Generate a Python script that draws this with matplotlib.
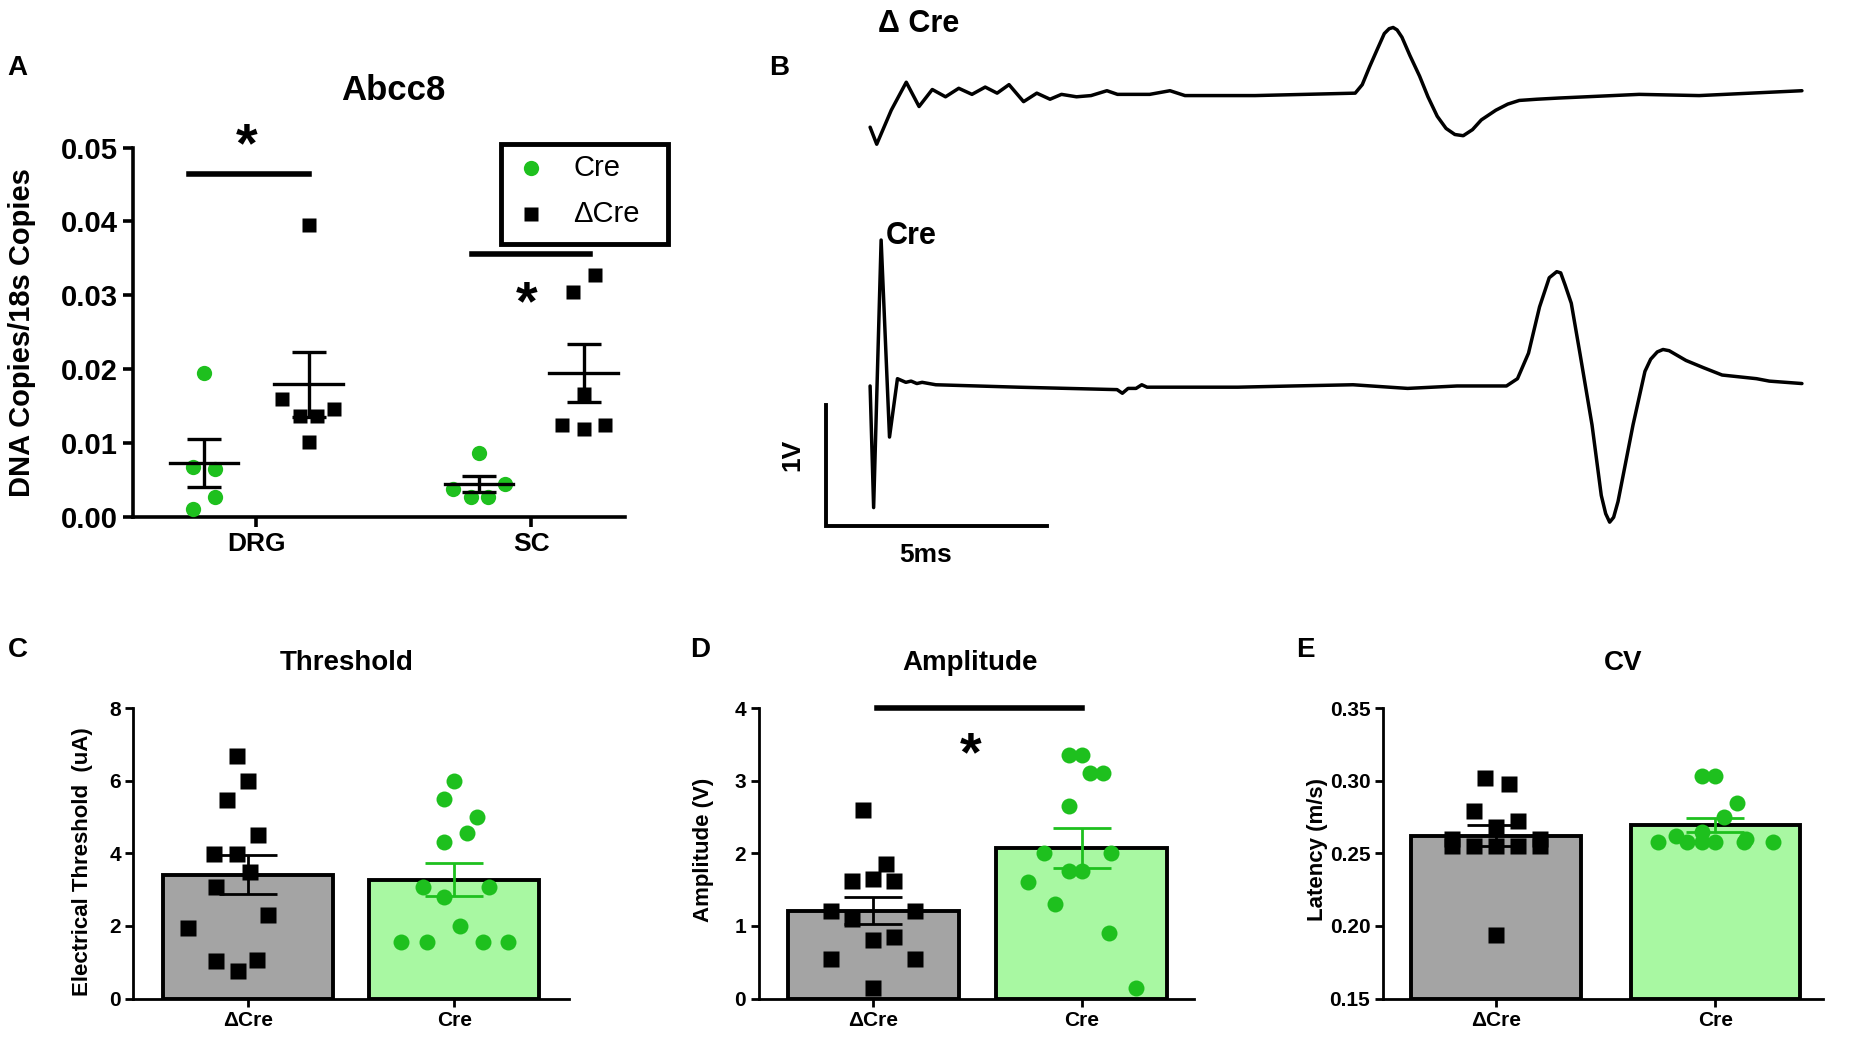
import matplotlib
matplotlib.use("Agg")
import matplotlib.pyplot as plt
import numpy as np
from matplotlib.patches import Rectangle
from matplotlib.lines import Line2D

plt.rcParams['font.family'] = ['Liberation Sans', 'DejaVu Sans']
plt.rcParams['font.weight'] = 'bold'

GREEN = '#1ec01e'
GRAY = '#a4a4a4'
LIGHTGREEN = '#a8f8a2'

# ---------------- Panel A data ----------------
a_groups = ['DRG', 'SC']
a_cre_drg = [0.0195, 0.0068, 0.0065, 0.0027, 0.0011]
a_dcre_drg = [0.0395, 0.0160, 0.0137, 0.0137, 0.0146, 0.0102]
a_cre_sc = [0.0087, 0.0045, 0.0038, 0.0027, 0.0027]
a_dcre_sc = [0.0304, 0.0328, 0.0167, 0.0125, 0.0125, 0.0119]
a_yticks = [0.00, 0.01, 0.02, 0.03, 0.04, 0.05]

# ---------------- Panel B traces (ms, V) ----------------
dcre_t = [0.0, 0.15, 0.48, 0.82, 1.11, 1.41, 1.71, 2.01, 2.31, 2.61, 2.88, 3.15, 3.48, 3.78,
          4.08, 4.34, 4.68, 5.01, 5.37, 5.61, 6.34, 6.80, 7.14, 8.73, 11.0, 11.16, 11.33, 11.50,
          11.66, 11.77, 11.86, 11.95, 12.06, 12.24, 12.46, 12.65, 12.86, 13.06, 13.26, 13.45,
          13.66, 13.86, 14.19, 14.46, 14.72, 15.12, 15.63, 17.44, 18.80, 21.13]
dcre_v = [-0.27, -0.41, -0.13, 0.10, -0.10, 0.04, -0.02, 0.05, 0.0, 0.06, 0.01, 0.08, -0.06, 0.01,
          -0.04, 0.0, -0.02, -0.01, 0.03, 0.0, 0.0, 0.03, -0.01, -0.01, 0.01, 0.08, 0.23, 0.37,
          0.50, 0.54, 0.55, 0.53, 0.47, 0.32, 0.15, -0.02, -0.18, -0.28, -0.33, -0.34,
          -0.29, -0.21, -0.13, -0.08, -0.05, -0.04, -0.03, 0.0, -0.01, 0.03]
cre_t = [0.0, 0.08, 0.25, 0.44, 0.62, 0.81, 0.93, 1.06, 1.18, 1.49, 3.36, 5.60, 5.72, 5.85,
         6.03, 6.16, 6.28, 8.34, 9.58, 10.95, 12.19, 13.31, 14.43, 14.68, 14.93, 15.18, 15.40,
         15.57, 15.66, 15.76, 15.90, 16.10, 16.37, 16.58, 16.68, 16.77, 16.86, 16.96, 17.30,
         17.57, 17.70, 17.85, 17.98, 18.12, 18.50, 18.90, 19.32, 20.10, 20.39, 21.13]
cre_v = [0.0, -1.0, 1.20, -0.42, 0.06, 0.03, 0.04, 0.02, 0.03, 0.01, -0.01, -0.03, -0.06, -0.02,
         -0.02, 0.01, -0.01, -0.01, 0.0, 0.01, -0.02, 0.0, 0.0, 0.06, 0.27, 0.65, 0.89,
         0.94, 0.93, 0.83, 0.68, 0.26, -0.32, -0.90, -1.05, -1.12, -1.08, -0.95, -0.32,
         0.12, 0.22, 0.28, 0.30, 0.29, 0.21, 0.15, 0.09, 0.06, 0.04, 0.02]
scale_ms = 5
scale_v = 1

# ---------------- Panels C, D, E data ----------------
bar_labels = ['\u0394Cre', 'Cre']
thr_dcre = [6.68, 5.99, 5.48, 4.50, 3.99, 3.99, 3.48, 3.07, 2.3, 1.95, 1.04, 1.07, 0.75]
thr_cre = [6.0, 5.5, 5.0, 4.57, 4.3, 3.07, 3.07, 2.8, 2.0, 1.55, 1.55, 1.55, 1.55]
amp_dcre = [2.6, 1.85, 1.62, 1.62, 1.65, 1.2, 1.2, 1.1, 0.85, 0.8, 0.55, 0.55, 0.15]
amp_cre = [3.35, 3.35, 3.1, 3.1, 2.65, 2.0, 2.0, 1.75, 1.75, 1.6, 1.3, 0.9, 0.15]
cv_dcre = [0.302, 0.298, 0.279, 0.272, 0.268, 0.26, 0.26, 0.255, 0.255, 0.255, 0.255, 0.255, 0.194]
cv_cre = [0.303, 0.303, 0.285, 0.275, 0.265, 0.262, 0.26, 0.258, 0.258, 0.258, 0.258, 0.258, 0.258]
thr_yticks = [0, 2, 4, 6, 8]
amp_yticks = [0, 1, 2, 3, 4]
cv_yticks = [0.15, 0.20, 0.25, 0.30, 0.35]

# horizontal jitter of points (layout only)
jit_a_cre_drg = [0.0, -0.04, 0.04, 0.04, -0.04]
jit_a_dcre_drg = [0.0, -0.095, -0.032, 0.03, 0.093, 0.0]
jit_a_cre_sc = [0.0, 0.095, -0.095, -0.03, 0.034]
jit_a_dcre_sc = [-0.04, 0.04, 0.0, -0.08, 0.078, 0.0]
jit_thr_d = [-0.05, 0.0, -0.10, 0.05, -0.165, -0.05, 0.01, -0.155, 0.10, -0.29, -0.155, 0.045, -0.045]
jit_thr_c = [0.0, -0.05, 0.11, 0.06, -0.05, -0.15, 0.17, -0.05, 0.03, -0.26, -0.13, 0.14, 0.26]
jit13b = [0.0, -0.06, 0.1, 0.04, -0.06, -0.18, 0.14, -0.06, 0.0, -0.26, -0.13, 0.13, 0.26]
jit13c = [-0.05, 0.06, -0.1, 0.1, 0.0, -0.2, 0.2, -0.1, 0.1, 0.0, -0.2, 0.2, 0.0]

W, H = 1568.0, 882.0


def fpos(x0, y0, x1, y1):
    return [x0 / W, 1 - y1 / H, (x1 - x0) / W, (y1 - y0) / H]


def mean_sem(v):
    v = np.asarray(v, float)
    return v.mean(), v.std(ddof=1) / np.sqrt(len(v))


fig = plt.figure(figsize=(18.5, 10.41), dpi=100)

# ================= Panel A =================
axA = fig.add_axes(fpos(113, 125, 530, 438))
axA.set_xlim(-0.447, 1.342)
axA.set_ylim(0, 0.05)
for s in ['top', 'right']:
    axA.spines[s].set_visible(False)
for s in ['left', 'bottom']:
    axA.spines[s].set_linewidth(2.6)
axA.set_yticks(a_yticks)
axA.set_yticklabels([f'{t:.2f}' for t in a_yticks])
axA.set_xticks([0, 1])
axA.set_xticklabels(a_groups)
axA.tick_params(direction='out', length=7, width=2.6, pad=4)
axA.tick_params(axis='y', labelsize=21)
axA.tick_params(axis='x', labelsize=19)

off = 0.19
for gi, (cre, dcre, jc, jd) in enumerate([(a_cre_drg, a_dcre_drg, jit_a_cre_drg, jit_a_dcre_drg),
                                           (a_cre_sc, a_dcre_sc, jit_a_cre_sc, jit_a_dcre_sc)]):
    xc = gi - off
    xd = gi + off
    axA.plot(xc + np.array(jc), cre, 'o', color=GREEN, ms=11, mec='none', clip_on=False, zorder=3)
    axA.plot(xd + np.array(jd), dcre, 's', color='black', ms=10.5, mec='none', clip_on=False, zorder=3)
    for xx, vals in [(xc, cre), (xd, dcre)]:
        m, se = mean_sem(vals)
        axA.plot([xx - 0.124, xx + 0.124], [m, m], color='black', lw=2.4, zorder=4)
        axA.errorbar(xx, m, yerr=se, color='black', lw=2.4, capsize=12, capthick=2.4, zorder=4)

# significance
axA.plot([-0.244, 0.19], [0.0464, 0.0464], color='black', lw=4, clip_on=False)
axA.text(-0.034, 0.0500, '*', ha='center', va='center', fontsize=40, clip_on=False)
axA.plot([1 - 0.215, 1 + 0.215], [0.0356, 0.0356], color='black', lw=4, clip_on=False)
axA.text(1 - 0.018, 0.0286, '*', ha='center', va='center', fontsize=40, clip_on=False)

# legend box (figure coords)
fig.patches.append(Rectangle((425 / W, 1 - 207 / H), (566 - 425) / W, (207 - 122) / H,
                             transform=fig.transFigure, fill=False, lw=3.5, ec='black'))
fig.lines.append(Line2D([450 / W], [1 - 142 / H], marker='o', color=GREEN, ms=11, mec='none',
                        transform=fig.transFigure))
fig.lines.append(Line2D([450 / W], [1 - 181 / H], marker='s', color='black', ms=10, mec='none',
                        transform=fig.transFigure))
fig.text(486 / W, 1 - 142 / H, 'Cre', fontsize=21, fontweight='normal', va='center', ha='left')
fig.text(486 / W, 1 - 181 / H, '\u0394Cre', fontsize=21, fontweight='normal', va='center', ha='left')

fig.text(333 / W, 1 - 77 / H, 'Abcc8', fontsize=25, ha='center', va='center')
fig.text(19 / W, 1 - 282 / H, 'DNA Copies/18s Copies', fontsize=21, rotation=90, ha='center', va='center')

# ================= Panel B =================
axB = fig.add_axes([755 / 1850, 1 - 600 / 1041, (1850 - 755) / 1850, 600 / 1041])
axB.set_xlim(-2.61, 22.22)
axB.set_ylim(0, 4.934)
axB.axis('off')
axB.plot(dcre_t, np.array(dcre_v) + 4.158, color='black', lw=2.5, solid_joinstyle='round',
         solid_capstyle='round')
axB.plot(cre_t, np.array(cre_v) + 1.760, color='black', lw=2.5, solid_joinstyle='round',
         solid_capstyle='round')
sb_x0, sb_y0 = -1.0, 0.605
axB.plot([sb_x0, sb_x0, sb_x0 + scale_ms], [sb_y0 + scale_v, sb_y0, sb_y0], color='black', lw=2.8,
         solid_joinstyle='miter')
axB.text(-1.77, 1.19, '1V', rotation=90, fontsize=19, ha='center', va='center')
axB.text(1.25, 0.373, '5ms', fontsize=19, ha='center', va='center')
axB.text(0.18, 4.74, '\u0394 Cre', fontsize=22, ha='left', va='center')
axB.text(0.36, 2.99, 'Cre', fontsize=22, ha='left', va='center')

# ================= Panels C, D, E =================


def bar_panel(ax_x0, ax_x1, c0, c1, bar_px, dcre, cre, jd, jc, ylim, yticks, fmt):
    ax = fig.add_axes(fpos(ax_x0, 600, ax_x1, 846))
    unit = float(c1 - c0)
    ax.set_xlim((ax_x0 - c0) / unit, (ax_x1 - c0) / unit)
    ax.set_ylim(*ylim)
    md, sd = mean_sem(dcre)
    mc, sc = mean_sem(cre)
    base = ylim[0]
    ax.bar([0, 1], [md - base, mc - base], bottom=base, width=bar_px / unit, color=[GRAY, LIGHTGREEN],
           edgecolor='black', linewidth=2.8, zorder=1)
    ax.plot(0 + np.array(jd), dcre, 's', color='black', ms=11, mec='none', zorder=3, clip_on=False)
    ax.plot(1 + np.array(jc), cre, 'o', color=GREEN, ms=11.5, mec='none', zorder=3, clip_on=False)
    ax.errorbar(0, md, yerr=sd, color='black', lw=2.0, capsize=21, capthick=2.0, zorder=4)
    ax.errorbar(1, mc, yerr=sc, color=GREEN, lw=2.0, capsize=21, capthick=2.0, zorder=4)
    for s in ['top', 'right']:
        ax.spines[s].set_visible(False)
    for s in ['left', 'bottom']:
        ax.spines[s].set_linewidth(2.0)
    ax.set_yticks(yticks)
    ax.set_yticklabels([fmt.format(t) for t in yticks])
    ax.set_xticks([0, 1])
    ax.set_xticklabels(bar_labels)
    ax.tick_params(direction='out', length=6, width=2.0, labelsize=15, pad=3)
    return ax


axC = bar_panel(113, 482, 210, 385, 144, thr_dcre, thr_cre, jit_thr_d, jit_thr_c, (0, 8), thr_yticks, '{:d}')
axD = bar_panel(643, 1012, 740, 917, 145, amp_dcre, amp_cre, jit13c, jit13b, (0, 4), amp_yticks, '{:d}')
axE = bar_panel(1172, 1545, 1268, 1454, 144, cv_dcre, cv_cre, jit13c, jit13b, (0.15, 0.35), cv_yticks, '{:.2f}')

axD.plot([0.017, 1.0], [4.0, 4.0], color='black', lw=4, clip_on=False)
axD.text(0.465, 3.34, '*', ha='center', va='center', fontsize=40)

fig.text(294 / W, 1 - 562 / H, 'Threshold', fontsize=20, ha='center', va='center')
fig.text(822 / W, 1 - 562 / H, 'Amplitude', fontsize=20, ha='center', va='center')
fig.text(1376 / W, 1 - 562 / H, 'CV', fontsize=20, ha='center', va='center')
fig.text(70 / W, 1 - 730 / H, 'Electrical Threshold  (uA)', fontsize=16, rotation=90, ha='center', va='center')
fig.text(596 / W, 1 - 720 / H, 'Amplitude (V)', fontsize=16, rotation=90, ha='center', va='center')
fig.text(1117 / W, 1 - 720 / H, 'Latency (m/s)', fontsize=16, rotation=90, ha='center', va='center')

for lab, x, y in [('A', 15, 58), ('B', 660, 58), ('C', 15, 551), ('D', 593, 551), ('E', 1106, 551)]:
    fig.text(x / W, 1 - y / H, lab, fontsize=20, ha='center', va='center')

fig.savefig('out.png', dpi=100)
